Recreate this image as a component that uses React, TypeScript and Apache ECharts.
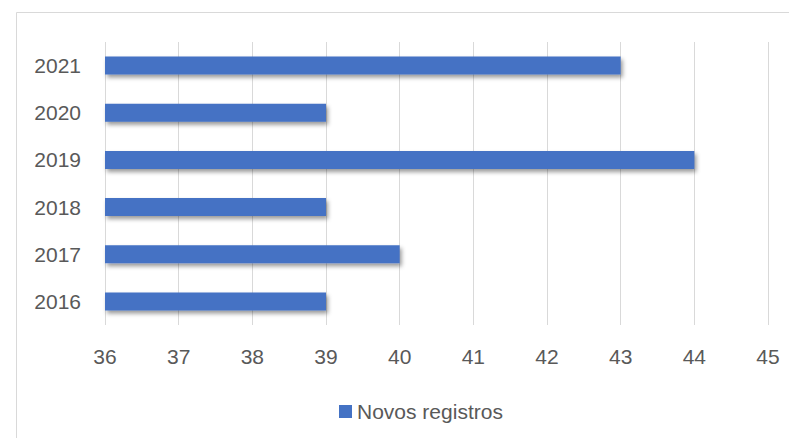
import React, { useEffect, useRef } from "react";
import * as echarts from "echarts";

const categories = ["2016", "2017", "2018", "2019", "2020", "2021"];
const values = [39, 40, 39, 44, 39, 43];
const seriesName = "Novos registros";
const xMin = 36;
const xMax = 45;

export default function App() {
  const ref = useRef<HTMLDivElement>(null);
  useEffect(() => {
    if (!ref.current) return;
    const chart = echarts.init(ref.current, null, { renderer: "svg" });
    const font = "'Liberation Sans', Arial, sans-serif";
    chart.setOption({
      animation: false,
      backgroundColor: "#ffffff",
      textStyle: { fontFamily: font },
      graphic: [
        {
          type: "rect",
          shape: { x: 16.5, y: 12.5, width: 800, height: 500 },
          style: { fill: "none", stroke: "#d9d9d9", lineWidth: 1 },
          silent: true,
        },
      ],
      grid: { left: 105, right: 21, top: 42, bottom: 113 },
      xAxis: {
        type: "value",
        min: xMin,
        max: xMax,
        interval: 1,
        axisLine: { show: false },
        axisTick: { show: false },
        splitLine: { show: true, lineStyle: { color: "#d9d9d9", width: 1 } },
        axisLabel: { color: "#595959", fontSize: 21, margin: 21, fontFamily: font },
      },
      yAxis: {
        type: "category",
        data: categories,
        axisLine: { show: false },
        axisTick: { show: false },
        axisLabel: { color: "#595959", fontSize: 21, margin: 24, fontFamily: font },
      },
      legend: {
        show: true,
        left: 334,
        top: 396,
        icon: "rect",
        itemWidth: 13,
        itemHeight: 13,
        itemGap: 10,
        textStyle: { color: "#595959", fontSize: 21, fontFamily: font },
        data: [seriesName],
      },
      series: [
        {
          name: seriesName,
          type: "bar",
          data: values,
          barWidth: 18,
          itemStyle: {
            color: "#4472C4",
            shadowBlur: 4,
            shadowOffsetX: 2,
            shadowOffsetY: 3,
            shadowColor: "rgba(0,0,0,0.4)",
          },
        },
      ],
    });
    return () => chart.dispose();
  }, []);
  return (
    <div
      ref={ref}
      style={{ position: "fixed", left: 0, top: 0, width: 789, height: 438 }}
    />
  );
}
